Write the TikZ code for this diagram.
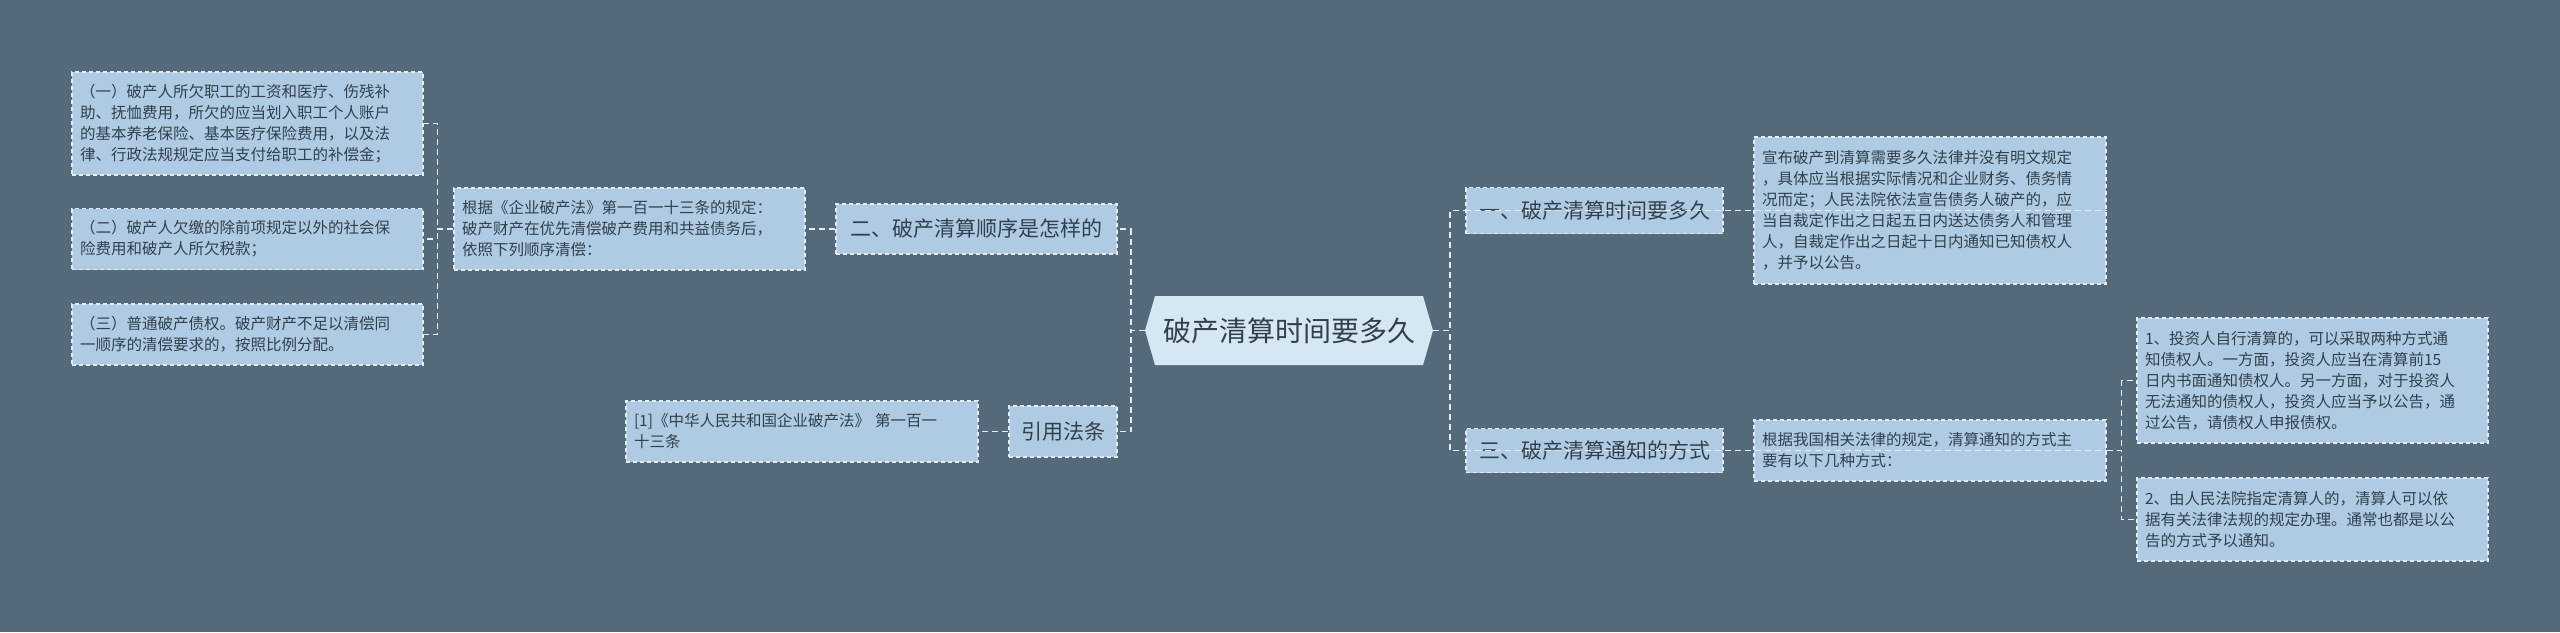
\documentclass[tikz,border=0pt]{standalone}
\usepackage{fontspec}
\setmainfont{Noto Sans CJK SC}
\definecolor{bg}{HTML}{546A7A}
\definecolor{boxf}{HTML}{AECBE3}
\definecolor{cenf}{HTML}{D5E7F3}
\definecolor{txt}{HTML}{33404C}
\definecolor{lnk}{HTML}{E4ECF2}
\tikzset{
 card/.style={draw=lnk, fill=boxf, dashed, dash pattern=on 4pt off 3pt, line width=1.2pt, text=txt,
   inner xsep=8pt, inner ysep=4pt, align=left, font=\fontsize{15.5}{21}\selectfont},
 branch/.style={card, align=center, font=\fontsize{21}{26}\selectfont},
 link/.style={draw=lnk, dashed, dash pattern=on 6pt off 4pt, line width=1.5pt},
}
\begin{document}
\begin{tikzpicture}[x=1pt,y=-1pt]
\fill[bg] (0,0) rectangle (2560,632);
\useasboundingbox (0,0) rectangle (2560,632);
% center
\fill[cenf] (1155,296) -- (1423,296) -- (1433,330.5) -- (1423,365) -- (1155,365) -- (1145,330.5) -- cycle;
\node[minimum width=288pt, minimum height=69pt, inner sep=0pt, text=txt, font=\fontsize{28}{32}\selectfont] (cen) at (1289,330.5) {破产清算时间要多久};
% left side
\node[branch, minimum width=281pt, minimum height=50pt] (b2) at (976.5,229) {二、破产清算顺序是怎样的};
\node[card, text width=335pt, minimum height=82pt] (d2) at (629.5,229) {根据《企业破产法》第一百一十三条的规定：\\破产财产在优先清偿破产费用和共益债务后，\\依照下列顺序清偿：};
\node[card, text width=335pt, minimum height=103pt] (c1) at (247.5,123.5) {（一）破产人所欠职工的工资和医疗、伤残补\\助、抚恤费用，所欠的应当划入职工个人账户\\的基本养老保险、基本医疗保险费用，以及法\\律、行政法规规定应当支付给职工的补偿金；};
\node[card, text width=335pt, minimum height=61pt] (c2) at (247.5,239) {（二）破产人欠缴的除前项规定以外的社会保\\险费用和破产人所欠税款；};
\node[card, text width=335pt, minimum height=61pt] (c3) at (247.5,334.5) {（三）普通破产债权。破产财产不足以清偿同\\一顺序的清偿要求的，按照比例分配。};
\node[branch, minimum width=108pt, minimum height=51pt, inner xsep=4pt] (bref) at (1063,431.5) {引用法条};
\node[card, text width=336pt, minimum height=61pt] (ref) at (802,431.5) {[1]《中华人民共和国企业破产法》 第一百一\\十三条};
% right side
\node[branch, minimum width=257pt, minimum height=46pt] (b1) at (1594.5,210.5) {一、破产清算时间要多久};
\node[card, text width=336pt, minimum height=147pt] (d1) at (1930,210.5) {宣布破产到清算需要多久法律并没有明文规定\\，具体应当根据实际情况和企业财务、债务情\\况而定；人民法院依法宣告债务人破产的，应\\当自裁定作出之日起五日内送达债务人和管理\\人，自裁定作出之日起十日内通知已知债权人\\，并予以公告。};
\node[branch, minimum width=257pt, minimum height=44pt] (b3) at (1594.5,450.5) {三、破产清算通知的方式};
\node[card, text width=336pt, minimum height=61pt] (d3) at (1930,450.5) {根据我国相关法律的规定，清算通知的方式主\\要有以下几种方式：};
\node[card, text width=335pt, minimum height=125pt] (k1) at (2312.5,380.5) {1、投资人自行清算的，可以采取两种方式通\\知债权人。一方面，投资人应当在清算前15\\日内书面通知债权人。另一方面，对于投资人\\无法通知的债权人，投资人应当予以公告，通\\过公告，请债权人申报债权。};
\node[card, text width=335pt, minimum height=83pt] (k2) at (2312.5,519.5) {2、由人民法院指定清算人的，清算人可以依\\据有关法律法规的规定办理。通常也都是以公\\告的方式予以通知。};
% links
\draw[link] (cen.west) -- ++(-14,0) |- (b2.east);
\draw[link] (cen.west) -- ++(-14,0) |- (bref.east);
\draw[link] (cen.east) -- ++(17,0) |- (b1.west);
\draw[link] (cen.east) -- ++(17,0) |- (b3.west);
\draw[link] (b2.west) -- (d2.east);
\draw[link] (bref.west) -- (ref.west -| ref.east);
\draw[link] (b1.west) -- (d1.east);
\draw[link] (b3.west) -- (d3.east);
\draw[link] (d2.west) -- ++(-16,0) |- (c1.east);
\draw[link] (d2.west) -- ++(-16,0) |- (c2.east);
\draw[link] (d2.west) -- ++(-16,0) |- (c3.east);
\draw[link] (d3.east) -- ++(15,0) |- (k1.west);
\draw[link] (d3.east) -- ++(15,0) |- (k2.west);
\end{tikzpicture}
\end{document}
